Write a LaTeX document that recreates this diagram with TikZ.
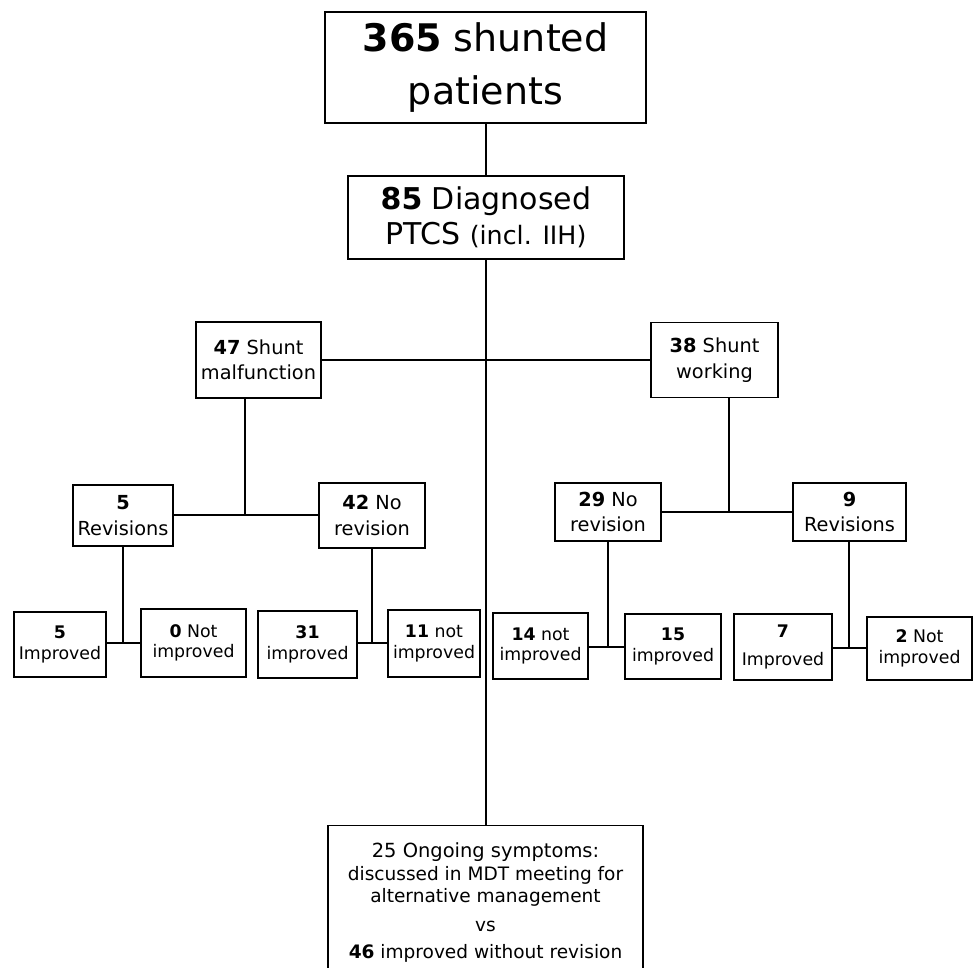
\documentclass[tikz,border=0pt]{standalone}
\usepackage{fontspec}
\setmainfont{DejaVu Sans}
\begin{document}
\begin{tikzpicture}[x=0.75pt,y=-0.75pt,
  box/.style={draw,line width=1.1pt,inner sep=0pt,align=center},
  sz/.style n args={2}{minimum width=#1*0.75pt,minimum height=#2*0.75pt},
  big/.style={box,font=\fontsize{28.5}{40}\selectfont},
  mid/.style={box,font=\fontsize{14.5}{19}\selectfont},
  leaf/.style={box,font=\fontsize{13}{15.5}\selectfont},
  wire/.style={line width=1.1pt}]
 \path[clip] (0,0) rectangle (973,967);
 % top of the tree
 \node[big,sz={321}{111}] (top) at (485.5,67.5)
   {\textbf{365} shunted\\patients};
 \node[box,sz={276}{83},font=\fontsize{22.5}{26}\selectfont] (ptcs) at (486,217.5)
   {\textbf{85} Diagnosed\\PTCS {\fontsize{19}{26}\selectfont (incl. IIH)}};
 \node[mid,sz={125}{76}] (malf) at (258.5,360) {\textbf{47} Shunt\\malfunction};
 \node[mid,sz={127}{75}] (work) at (714.5,360) {\textbf{38} Shunt\\working};
 % second level
 \foreach \nm/\xp/\yp/\bw/\bh/\nb/\ta/\tb in {
   rev5/123/515.5/100/61/5/{}/Revisions,
   norev42/372/515.5/106/65/42/{ No}/revision,
   norev29/608/512/106/58/29/{ No}/revision,
   rev9/849.5/512/113/58/9/{}/Revisions} {
   \node[mid,sz={\bw}{\bh}] (\nm) at (\xp,\yp) {\textbf{\nb}\ta\\\tb};
 }
 % outcomes
 \foreach \nm/\xp/\yp/\bw/\bh/\nb/\ta/\tb/\gp in {
   imp5/60/644.5/92/65/5/{}/Improved/0pt,
   notimp0/193.5/643/105/68/0/{ Not}/improved/0pt,
   imp31/307.5/644.5/99/67/31/{}/improved/0pt,
   notimp11/434/643.5/92/67/11/{ not}/improved/0pt,
   notimp14/540.5/646/95/66/14/{ not}/improved/0pt,
   imp15/673/646.5/96/65/15/{}/improved/0pt,
   imp7/783/647/98/66/7/{}/Improved/6pt,
   notimp2/919.5/648.5/105/63/2/{ Not}/improved/0pt} {
   \node[leaf,sz={\bw}{\bh}] (\nm) at (\xp,\yp) {\textbf{\nb}\ta\\[\gp]\tb};
 }
 \node[box,anchor=north,minimum width=315*0.75pt,inner ysep=13pt,
   font=\fontsize{13.9}{16.8}\selectfont] (mdt) at (485.5,825)
   {{\fontsize{14.6}{17}\selectfont 25 Ongoing symptoms:}\\
    discussed in MDT meeting for\\
    alternative management\\[5pt]
    vs\\[3pt]
    \textbf{46} improved without revision\\[20pt]};
 % connectors
 \coordinate (jm) at (245,515);
 \coordinate (jw) at (729,512);
 \coordinate (ja) at (123,643);
 \coordinate (jb) at (372,643);
 \coordinate (jc) at (608,647);
 \coordinate (jd) at (849,648);
 \draw[wire] (ptcs.north) -- (ptcs.north |- top.south);
 \draw[wire] (ptcs.south) -- (ptcs.south |- mdt.north);
 \draw[wire] (malf.east) -- (malf.east -| work.west);
 \foreach \up/\j/\lf/\rt in {
   malf/jm/rev5/norev42, work/jw/norev29/rev9,
   rev5/ja/imp5/notimp0, norev42/jb/imp31/notimp11,
   norev29/jc/notimp14/imp15, rev9/jd/imp7/notimp2} {
   \draw[wire] (\j |- \up.south) -- (\j)
     (\lf.east |- \j) -- (\rt.west |- \j);
 }
\end{tikzpicture}
\end{document}
